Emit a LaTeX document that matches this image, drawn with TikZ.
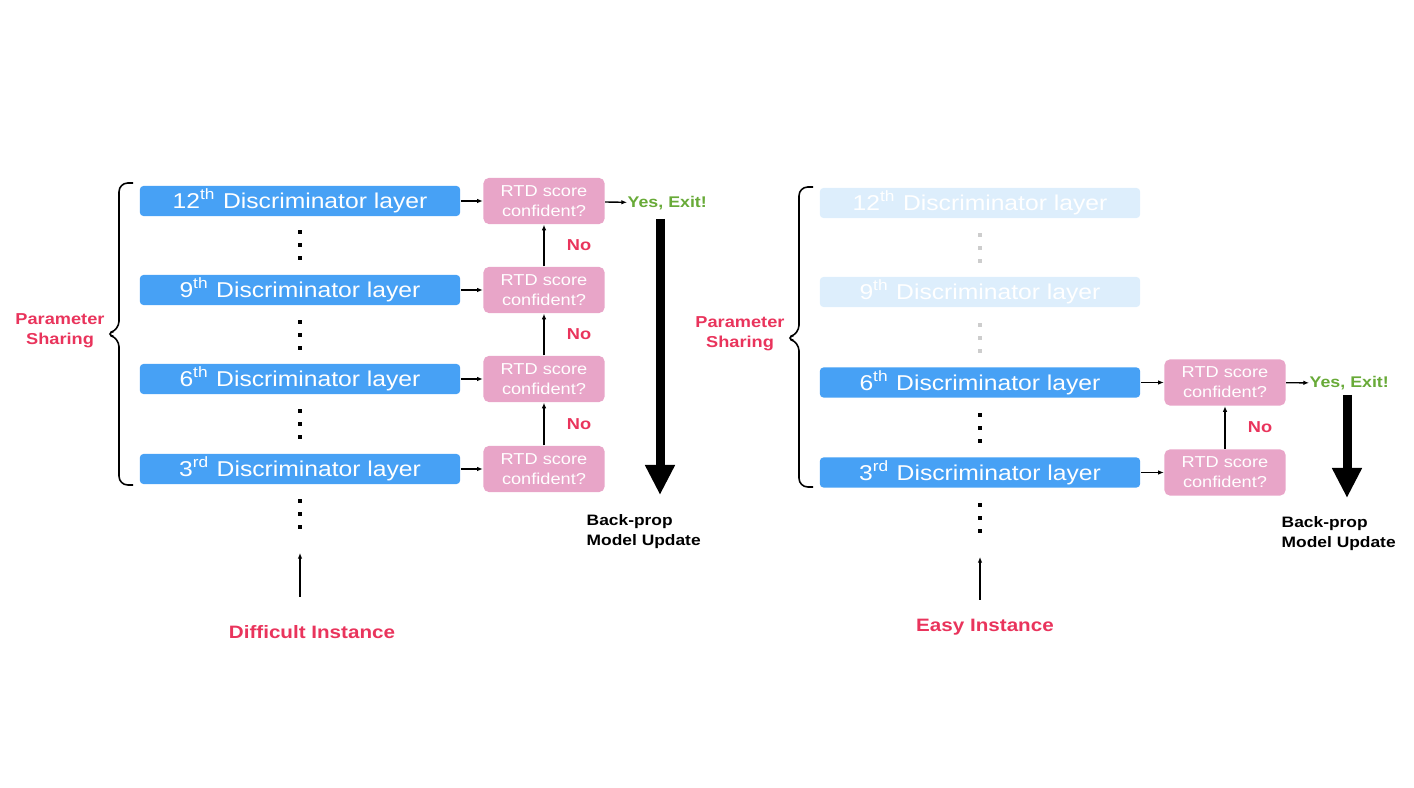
\documentclass[tikz,border=0pt]{standalone}
\usepackage{fontspec}
\setmainfont{Liberation Sans}[FakeStretch=1.15]
\usetikzlibrary{arrows.meta}
\definecolor{layerblue}{RGB}{71,161,245}
\definecolor{fadedblue}{RGB}{221,238,252}
\definecolor{rtdpink}{RGB}{232,165,200}
\definecolor{alertred}{RGB}{233,52,92}
\definecolor{exitgreen}{RGB}{104,170,56}
\definecolor{fadedgray}{RGB}{205,205,205}

\begin{document}
\begin{tikzpicture}[
x=0.01cm, y=-0.01cm,
layernode/.style={
  fill=layerblue,
  rounded corners=1pt,
  minimum width=3.2cm,
  minimum height=0.3cm,
  inner sep=0pt,
  text=white,
  font=\fontsize{6.1}{7}\selectfont
  },
fadednode/.style={layernode, fill=fadedblue},
rtdnode/.style={
  fill=rtdpink,
  rounded corners=1.5pt,
  minimum width=1.21cm,
  minimum height=0.46cm,
  inner sep=0pt,
  align=center,
  text=white,
  font=\fontsize{4.5}{5.7}\selectfont
  },
nolabel/.style={text=alertred, font=\bfseries\fontsize{4.5}{5.5}\selectfont},
exitlabel/.style={text=exitgreen, inner sep=0pt, anchor=west, font=\bfseries\fontsize{4.4}{5.5}\selectfont},
redlabel/.style={text=alertred, align=center, font=\bfseries\fontsize{4.5}{5.7}\selectfont},
backlabel/.style={align=left, inner sep=0pt, anchor=north west, font=\bfseries\fontsize{4.3}{5.6}\selectfont},
thinarrow/.style={line width=0.4pt, -{Latex[length=1.6pt,width=1.3pt]}},
bigarrow/.style={line width=0.09cm, -{Triangle[length=0.3cm,width=0.28cm]}},
bracket/.style={line width=0.45pt, rounded corners=2.5pt}
]
\useasboundingbox (0,0) rectangle (1414,788);

% left: difficult instance
\foreach \Num/\Sup/\Y in {12/th/201,9/th/290,6/th/379,3/rd/469}{
  \node[layernode] (l\Num) at (300,\Y) {\Num\textsuperscript{\Sup} Discriminator layer};
  \node[rtdnode] (r\Num) at (544,\Y) {RTD score\\confident?};
  \draw[thinarrow] (l\Num) -- (r\Num);
}
\foreach \Y in {245,335,424,514}
  \foreach \d in {-13,0,13}
    \fill (298.2,\Y+\d-1.8) rectangle ++(3.6,3.6);
\draw[thinarrow] (r3) -- node[nolabel,right=3pt] {No} (r6);
\draw[thinarrow] (r6) -- node[nolabel,right=3pt] {No} (r9);
\draw[thinarrow] (r9) -- node[nolabel,right=3pt] {No} (r12);
\node[exitlabel] (yes1) at (627,203) {Yes, Exit!};
\draw[thinarrow] (r12) -- (yes1);
\coordinate (top1) at (660,219);
\coordinate (bot1) at (660,495);
\draw[bigarrow] (top1) -- (bot1);
\node[backlabel] (bp1) at (586,514) {Back-prop\\Model Update};
\draw[bracket] (133,183) -- (119,183) -- (119,330) -- (105,334) -- (119,338) -- (119,485) -- (133,485);
\node[redlabel] (ps1) at (60,331) {Parameter\\Sharing};
\node[redlabel, font=\bfseries\fontsize{5.1}{6}\selectfont] (in1) at (312,632) {Difficult Instance};
\coordinate (src1) at (300,597);
\coordinate (dst1) at (300,553);
\draw[thinarrow] (src1) -- (dst1);

% right: easy instance
\node[fadednode] (el12) at (980,203) {12\textsuperscript{th} Discriminator layer};
\node[fadednode] (el9) at (980,292) {9\textsuperscript{th} Discriminator layer};
\foreach \Num/\Sup/\Y in {6/th/382.5,3/rd/472.5}{
  \node[layernode] (el\Num) at (980,\Y) {\Num\textsuperscript{\Sup} Discriminator layer};
  \node[rtdnode] (er\Num) at (1225,\Y) {RTD score\\confident?};
  \draw[thinarrow] (el\Num) -- (er\Num);
}
\foreach \Y in {248,338}
  \foreach \d in {-13,0,13}
    \fill[fadedgray] (978.2,\Y+\d-1.8) rectangle ++(3.6,3.6);
\foreach \Y in {428,518}
  \foreach \d in {-13,0,13}
    \fill (978.2,\Y+\d-1.8) rectangle ++(3.6,3.6);
\draw[thinarrow] (er3) -- node[nolabel,right=3pt] {No} (er6);
\node[exitlabel] (yes2) at (1309,383) {Yes, Exit!};
\draw[thinarrow] (er6) -- (yes2);
\coordinate (top2) at (1347,395);
\coordinate (bot2) at (1347,498);
\draw[bigarrow] (top2) -- (bot2);
\node[backlabel] (bp2) at (1281,516) {Back-prop\\Model Update};
\draw[bracket] (813,187) -- (799,187) -- (799,334) -- (785,338) -- (799,342) -- (799,487) -- (813,487);
\node[redlabel] (ps2) at (740,334) {Parameter\\Sharing};
\node[redlabel, font=\bfseries\fontsize{5.1}{6}\selectfont] (in2) at (985,627) {Easy Instance};
\coordinate (src2) at (980,600);
\coordinate (dst2) at (980,557);
\draw[thinarrow] (src2) -- (dst2);
\end{tikzpicture}
\end{document}
